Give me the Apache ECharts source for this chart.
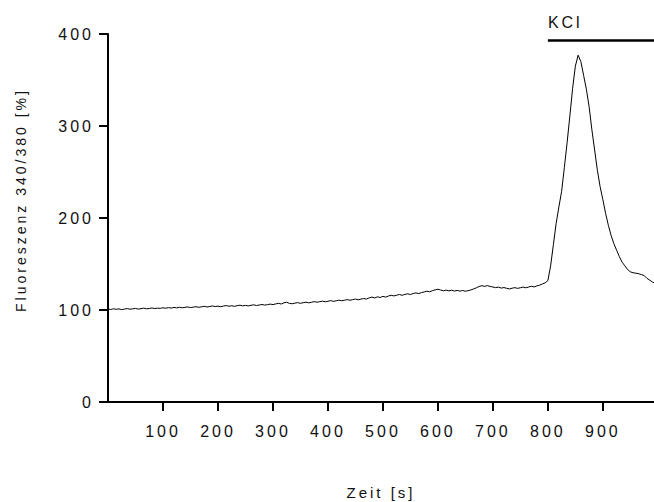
<!DOCTYPE html>
<html>
<head>
<meta charset="utf-8">
<script src="https://cdn.jsdelivr.net/npm/echarts@6/dist/echarts.min.js"></script>
<style>
  html, body { margin: 0; padding: 0; background: #fff; }
  #chart { width: 654px; height: 502px; }
  /* the original uses widely spaced lettering */
  #chart text { letter-spacing: 3px; }
</style>
</head>
<body>
<div id="chart"></div>
<script>
// sampling step of the recording, seconds
var step = 5;
// fluorescence ratio 340/380 in %, one value every 5 s from 0 s
var ratio = [
  101.0, 100.6, 101.3, 100.8, 101.2, 100.4, 101.0, 101.5, 100.9, 101.3,
  101.7, 101.0, 101.4, 102.0, 101.3, 101.6, 102.2, 101.5, 102.0, 101.8,
  102.4, 101.9, 102.6, 102.1, 102.8, 102.3, 103.0, 102.4, 102.9, 103.3,
  102.7, 103.1, 103.6, 102.9, 103.4, 104.0, 103.3, 103.8, 104.4, 103.7,
  104.2, 103.6, 104.3, 104.8, 104.1, 104.6, 104.0, 104.7, 105.2, 104.5,
  105.0, 104.4, 105.1, 105.6, 104.9, 105.4, 106.0, 105.3, 105.8, 106.4,
  105.9, 106.6, 107.3, 106.5, 107.8, 108.4, 107.2, 106.8, 107.5, 108.0,
  107.3, 107.9, 108.5, 107.8, 108.4, 109.1, 108.5, 109.0, 109.6, 108.9,
  109.5, 110.2, 109.4, 110.0, 110.7, 110.1, 110.6, 111.3, 110.6, 111.2,
  111.9, 111.1, 111.8, 112.5, 111.9, 113.2, 114.0, 113.1, 114.3, 113.6,
  114.8, 114.0, 115.2, 116.0, 115.3, 116.1, 116.8, 116.0, 116.9, 117.6,
  116.8, 117.9, 118.6, 117.8, 118.9, 119.6, 120.5, 119.8, 121.0, 121.9,
  122.6, 121.7, 120.9, 121.6, 120.8, 121.5, 120.6, 121.3, 120.5, 121.2,
  120.4, 121.0, 121.8, 122.9, 124.1, 125.6, 126.4, 125.7, 126.5, 125.6,
  125.0, 124.3, 124.9, 123.8, 124.4, 123.6, 122.9, 123.7, 124.3, 123.5,
  124.2, 124.9, 124.1, 125.0, 125.8, 125.1, 126.2, 127.0, 128.3, 129.5,
  132.0, 148.0, 171.0, 194.0, 212.0, 229.0, 255.0, 282.0, 311.0, 341.0,
  365.0, 377.0, 370.0, 355.0, 340.0, 321.0, 296.0, 274.0, 252.0, 234.0,
  220.0, 205.0, 192.0, 181.0, 172.0, 165.0, 158.0, 152.0, 148.0, 144.0,
  141.5, 140.5, 140.0, 139.5, 138.5, 137.5, 134.5, 132.5, 130.5, 129.0
];
// x tick labels and the visible end of the time axis
var xTicks = [100, 200, 300, 400, 500, 600, 700, 800, 900];
var xEnd = 993;
// KCl application: start time and height of the bar
var kclStart = 800;
var kclLevel = 393;

var points = [];
for (var i = 0; i < ratio.length; i++) {
  points.push([i * step, ratio[i]]);
}

var textColor = '#111';
var font = 'Liberation Sans, Arial, sans-serif';

var myChart = echarts.init(document.getElementById('chart'), null, { renderer: 'svg' });
var option = {
  animation: false,
  backgroundColor: '#fff',
  grid: { left: 108, right: 0, top: 34, bottom: 100, outerBoundsMode: 'none' },
  xAxis: {
    type: 'value',
    min: 0,
    max: xEnd,
    name: 'Zeit [s]',
    nameLocation: 'middle',
    nameGap: 83,
    nameTextStyle: { color: textColor, fontSize: 15, fontFamily: font },
    splitLine: { show: false },
    axisLine: { lineStyle: { color: '#000', width: 2 } },
    axisTick: { length: 9, customValues: xTicks, lineStyle: { color: '#000', width: 2 } },
    axisLabel: {
      margin: 21,
      customValues: xTicks,
      color: textColor,
      fontSize: 16,
      fontFamily: font
    }
  },
  yAxis: {
    type: 'value',
    min: 0,
    max: 400,
    interval: 100,
    splitLine: { show: false },
    axisLine: { show: true, lineStyle: { color: '#000', width: 2 } },
    axisTick: { show: true, length: 9, lineStyle: { color: '#000', width: 2 } },
    axisLabel: { margin: 14, color: textColor, fontSize: 16, fontFamily: font }
  },
  graphic: [{
    type: 'text',
    x: 21,
    y: 200,
    rotation: Math.PI / 2,
    style: {
      text: 'Fluoreszenz 340/380 [%]',
      fill: textColor,
      font: '14px ' + font,
      align: 'center',
      verticalAlign: 'middle'
    }
  }],
  series: [{
    type: 'line',
    data: points,
    showSymbol: false,
    clip: false,
    lineStyle: { color: '#000', width: 1 },
    markLine: {
      silent: true,
      symbol: 'none',
      lineStyle: { color: '#000', width: 2.5, type: 'solid' },
      label: {
        show: true,
        position: 'insideStartTop',
        distance: [0, 10],
        formatter: 'KCl',
        color: textColor,
        fontSize: 16,
        fontFamily: font
      },
      data: [[{ coord: [kclStart, kclLevel] }, { coord: [xEnd, kclLevel] }]]
    }
  }]
};
myChart.setOption(option);
</script>
</body>
</html>
